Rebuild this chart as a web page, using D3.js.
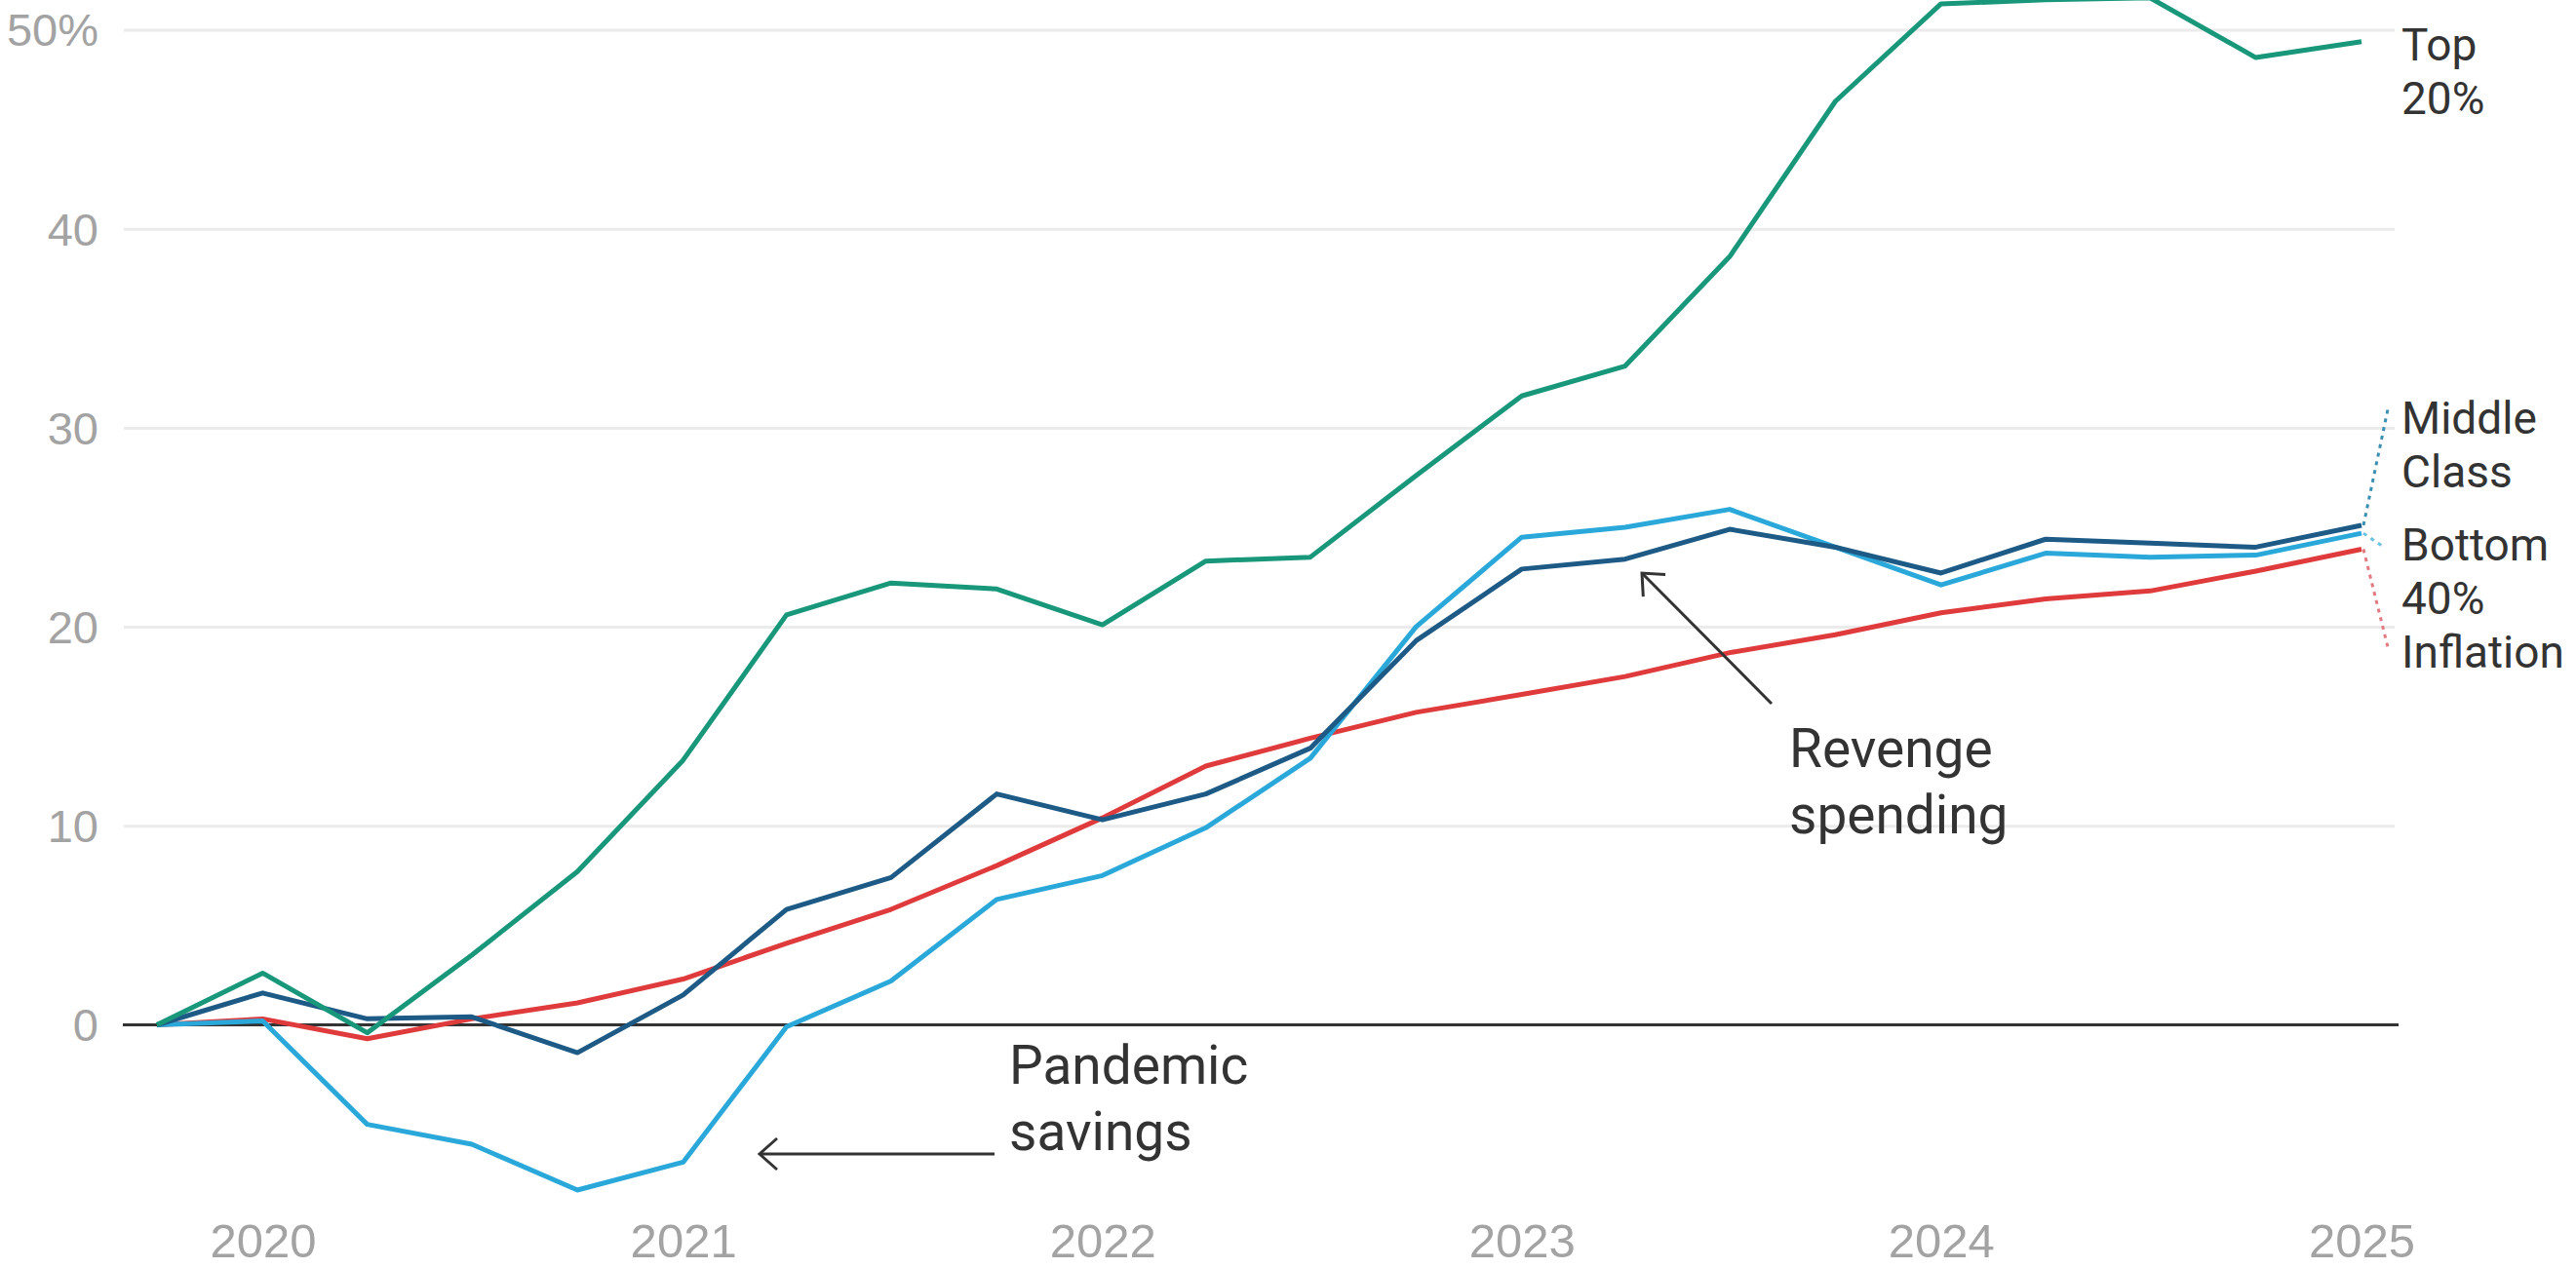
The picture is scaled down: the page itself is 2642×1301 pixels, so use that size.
<!DOCTYPE html>
<html lang="en">
<head>
	<meta charset="UTF-8">
	<title>Spending growth by income group</title>
	<script src="https://d3js.org/d3.v7.min.js"></script>
	<style>
		body { margin: 0; background: #fff; }
		svg { display: block; font-family: Roboto, "Noto Sans", sans-serif; }
	</style>
</head>
<body>

	<svg width="2642" height="1301"></svg>

	<script>

		// Quarterly dates (start of quarter)
		var quarters = ["2019-10-01", "2020-01-01", "2020-04-01", "2020-07-01", "2020-10-01",
			"2021-01-01", "2021-04-01", "2021-07-01", "2021-10-01",
			"2022-01-01", "2022-04-01", "2022-07-01", "2022-10-01",
			"2023-01-01", "2023-04-01", "2023-07-01", "2023-10-01",
			"2024-01-01", "2024-04-01", "2024-07-01", "2024-10-01", "2025-01-01"];

		// cumulative change, %
		var top20 = [0, 2.6, -0.4, 3.5, 7.7, 13.3, 20.6, 22.2, 21.9, 20.1, 23.3, 23.5, 27.6, 31.6, 33.1, 38.6, 46.4, 51.3, 51.5, 51.6, 48.6, 49.4];
		var middleClass = [0, 1.6, 0.3, 0.4, -1.4, 1.5, 5.8, 7.4, 11.6, 10.3, 11.6, 13.9, 19.3, 22.9, 23.4, 24.9, 24.0, 22.7, 24.4, 24.2, 24.0, 25.1];
		var bottom40 = [0, 0.2, -5.0, -6.0, -8.3, -6.9, -0.1, 2.2, 6.3, 7.5, 9.9, 13.4, 20.0, 24.5, 25.0, 25.9, 24.0, 22.1, 23.7, 23.5, 23.6, 24.7];
		var inflation = [0, 0.3, -0.7, 0.3, 1.1, 2.3, 4.1, 5.8, 8.0, 10.4, 13.0, 14.4, 15.7, 16.6, 17.5, 18.7, 19.6, 20.7, 21.4, 21.8, 22.8, 23.9];

		var yTicks = [0, 10, 20, 30, 40, 50];
		var xTicks = ["2020", "2021", "2022", "2023", "2024", "2025"];

		var parseDate = d3.timeParse("%Y-%m-%d");
		var parseYear = d3.timeParse("%Y");
		var dates = quarters.map(parseDate);

		var svg = d3.select("svg");

		var xScale = d3.scaleTime()
			.domain([dates[0], dates[dates.length - 1]])
			.range([161, 2422]);

		var yScale = d3.scaleLinear()
			.domain([0, 50])
			.range([1051.5, 30.5]);

		// Gridlines
		var yAxis = d3.axisLeft(yScale)
			.tickValues(yTicks)
			.tickSize(-(2456 - 127))
			.tickPadding(26)
			.tickFormat(function(d) { return d == 50 ? d + "%" : d; });

		var gy = svg.append("g")
			.attr("transform", "translate(127,0)")
			.call(yAxis);

		gy.select(".domain").remove();
		gy.selectAll(".tick line")
			.attr("stroke", "#ebebeb")
			.attr("stroke-width", 3);
		gy.selectAll(".tick text")
			.attr("fill", "#a3a3a3")
			.style("font-size", "47px")
			.attr("dy", "0.35em");

		// zero line
		svg.append("line")
			.attr("x1", 126)
			.attr("x2", 2460)
			.attr("y1", yScale(0))
			.attr("y2", yScale(0))
			.attr("stroke", "#333")
			.attr("stroke-width", 3);

		// X axis labels
		var xAxis = d3.axisBottom(xScale)
			.tickValues(xTicks.map(parseYear))
			.tickSize(0)
			.tickPadding(0)
			.tickFormat(d3.timeFormat("%Y"));

		var gx = svg.append("g")
			.attr("transform", "translate(0,1255)")
			.call(xAxis);

		gx.select(".domain").remove();
		gx.selectAll(".tick text")
			.attr("fill", "#a3a3a3")
			.attr("dy", "0.71em")
			.style("font-size", "49px");

		// Lines
		var series = [
			{ name: "Inflation", values: inflation, color: "#e03b3c" },
			{ name: "Bottom 40%", values: bottom40, color: "#2ba8da" },
			{ name: "Middle Class", values: middleClass, color: "#1d5a86" },
			{ name: "Top 20%", values: top20, color: "#18977a" }
		];

		var line = d3.line()
			.x(function(d, i) { return xScale(dates[i]); })
			.y(function(d) { return yScale(d); });

		svg.selectAll(".series")
			.data(series)
			.enter()
			.append("path")
			.attr("class", "series")
			.attr("d", function(d) { return line(d.values); })
			.attr("fill", "none")
			.attr("stroke", function(d) { return d.color; })
			.attr("stroke-width", 5)
			.attr("stroke-linejoin", "round");

		// dotted connectors to the labels on the right
		var last = dates.length - 1;
		var connectors = [
			{ value: middleClass[last], tx: 2449, ty: 420, color: "#3a8fb3" },
			{ value: bottom40[last], tx: 2443, ty: 560, color: "#6cc0e0" },
			{ value: inflation[last], tx: 2450, ty: 668, color: "#e27a80" }
		];

		svg.selectAll(".connector")
			.data(connectors)
			.enter()
			.append("line")
			.attr("class", "connector")
			.attr("x1", xScale(dates[last]) + 2)
			.attr("y1", function(d) { return yScale(d.value); })
			.attr("x2", function(d) { return d.tx; })
			.attr("y2", function(d) { return d.ty; })
			.attr("stroke", function(d) { return d.color; })
			.attr("stroke-width", 3)
			.attr("stroke-dasharray", "4,5");

		// Series labels
		var labels = [
			{ lines: ["Top", "20%"], y: 62 },
			{ lines: ["Middle", "Class"], y: 445 },
			{ lines: ["Bottom", "40%"], y: 575 },
			{ lines: ["Inflation"], y: 685 }
		];

		labels.forEach(function(l) {
			var t = svg.append("text")
				.attr("x", 2463)
				.attr("y", l.y)
				.attr("fill", "#333")
				.style("font-size", "46px");
			l.lines.forEach(function(s, i) {
				t.append("tspan")
					.attr("x", 2463)
					.attr("dy", i == 0 ? 0 : 55)
					.text(s);
			});
		});

		// Annotations
		function annotation(x, y, lines) {
			var t = svg.append("text")
				.attr("x", x)
				.attr("y", y)
				.attr("fill", "#333")
				.style("font-size", "55px");
			lines.forEach(function(s, i) {
				t.append("tspan")
					.attr("x", x)
					.attr("dy", i == 0 ? 0 : 68)
					.text(s);
			});
		}

		annotation(1035, 1112, ["Pandemic", "savings"]);
		annotation(1835, 787, ["Revenge", "spending"]);

		// arrows, open chevron head at the pointed end
		svg.append("defs")
			.append("marker")
			.attr("id", "head")
			.attr("viewBox", "0 0 24 36")
			.attr("refX", 21)
			.attr("refY", 18)
			.attr("markerWidth", 24)
			.attr("markerHeight", 36)
			.attr("markerUnits", "userSpaceOnUse")
			.attr("orient", "auto")
			.append("path")
			.attr("d", "M3,2 L21,18 L3,34")
			.attr("fill", "none")
			.attr("stroke", "#333")
			.attr("stroke-width", 3);

		var arrows = [
			{ x1: 1020, y1: 1184, x2: 779, y2: 1184 },
			{ x1: 1817, y1: 722, x2: 1684, y2: 588 }
		];

		svg.selectAll(".arrow")
			.data(arrows)
			.enter()
			.append("line")
			.attr("class", "arrow")
			.attr("x1", function(d) { return d.x1; })
			.attr("y1", function(d) { return d.y1; })
			.attr("x2", function(d) { return d.x2; })
			.attr("y2", function(d) { return d.y2; })
			.attr("stroke", "#333")
			.attr("stroke-width", 3)
			.attr("marker-end", "url(#head)");

	</script>

</body>
</html>
